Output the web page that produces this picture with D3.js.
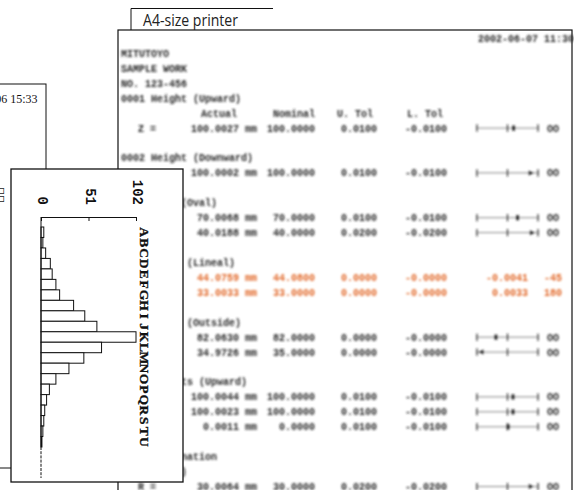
<!DOCTYPE html>
<html>
<head>
<meta charset="utf-8">
<script src="https://cdn.jsdelivr.net/npm/d3@7"></script>
<style>
  html, body { margin: 0; padding: 0; background: #fff; }
  svg { display: block; }
</style>
</head>
<body>
<svg id="chart" width="574" height="490"></svg>
<script>
// histogram printed on the small printer (counts per class)
const categories = 'ABCDEFGHIJKLMNOPQRSTU'.split('');
const counts = [3, 2, 5, 10, 12, 16, 20, 35, 47, 60, 102, 65, 46, 30, 16, 9, 6, 4, 3, 2, 1];
const countTicks = [0, 51, 102];

// A4 report text
const reportDate = '2002-06-07 11:30';
const reportTitle = ['MITUTOYO', 'SAMPLE WORK', 'NO. 123-456'];
const columnHeads = ['Actual', 'Nominal', 'U. Tol', 'L. Tol'];
const headingLines = [4, 8, 11, 15, 19, 23, 28, 29];
const headingTexts = ['0001 Height (Upward)', '0002 Height (Downward)', '0003 Bore  (Oval)',
  '0004 Dist. (Lineal)', '0005 Width (Outside)', '0006 Heights (Upward)', '0007 Inclination', '     Datum (B-C)'];

const rowLines  = [6, 9, 12, 13, 16, 17, 20, 21, 24, 25, 26, 30];
const rowLabels = ['Z  =', '', '', '', '', '', '', '', '', '', '', 'R  ='];
const actuals   = ['100.0027', '100.0002', '70.0068', '40.0188', '44.0759', '33.0033',
  '82.0630', '34.9726', '100.0044', '100.0023', '0.0011', '30.0064'];
const nominals  = ['100.0000', '100.0000', '70.0000', '40.0000', '44.0800', '33.0000',
  '82.0000', '35.0000', '100.0000', '100.0000', '0.0000', '30.0000'];
const upperTols = ['0.0100', '0.0100', '0.0100', '0.0200', '0.0000', '0.0000',
  '0.0000', '0.0000', '0.0100', '0.0100', '0.0100', '0.0200'];
const lowerTols = ['-0.0100', '-0.0100', '-0.0100', '-0.0200', '-0.0000', '-0.0000',
  '-0.0000', '-0.0000', '-0.0100', '-0.0100', '-0.0100', '-0.0200'];
const gaugePos  = [0.2, 0.76, 0.33, 0.8, null, null, -0.38, -0.85, 0.18, 0.18, 0.02, 0.76];
const outDevs   = [null, null, null, null, '-0.0041', '0.0033', null, null, null, null, null, null];
const outAngles = [null, null, null, null, '-45', '180', null, null, null, null, null, null];

const svg = d3.select('#chart');
const mono = "'Liberation Mono', 'DejaVu Sans Mono', monospace";

svg.append('defs').append('filter')
  .attr('id', 'blur')
  .attr('x', '-5%').attr('y', '-50%').attr('width', '110%').attr('height', '200%')
  .append('feGaussianBlur').attr('stdDeviation', 1.1);

// ---- A4 page ----
const page = svg.append('g').attr('class', 'page');
page.append('rect')
  .attr('x', 118).attr('y', 30).attr('width', 454).attr('height', 480)
  .attr('fill', '#fff').attr('stroke', '#111').attr('stroke-width', 1.2);
page.append('path')
  .attr('d', 'M131,30V8.5H273')
  .attr('fill', 'none').attr('stroke', '#111').attr('stroke-width', 1);
page.append('text')
  .attr('x', 143).attr('y', 26)
  .attr('font-family', "'Open Sans', sans-serif").attr('font-size', 15.5)
  .attr('textLength', 95).attr('lengthAdjust', 'spacingAndGlyphs')
  .attr('fill', '#222')
  .text('A4-size printer');

const lineY = d3.scaleLinear().domain([0, 30]).range([38.5, 486.5]);

const report = page.append('g')
  .attr('filter', 'url(#blur)')
  .attr('font-family', mono).attr('font-size', 10).attr('font-weight', 'bold')
  .attr('fill', '#2a2a2a');

const put = (x, line, text, anchor, color) => report.append('text')
  .attr('x', x).attr('y', lineY(line)).attr('dy', '0.35em')
  .attr('text-anchor', anchor || 'start')
  .attr('fill', color || null)
  .text(text);

put(478, 0, reportDate);
reportTitle.forEach((t, i) => put(121, i + 1, t));
headingTexts.forEach((t, i) => put(121, headingLines[i], t));
[237, 315, 373, 443].forEach((x, i) => put(x, 5, columnHeads[i], 'end'));

const gx = d3.scaleLinear().domain([-1, 1]).range([477, 538]);
rowLines.forEach((ln, i) => {
  const col = outDevs[i] ? '#e2692a' : null;
  const yy = lineY(ln);
  if (rowLabels[i]) put(138, ln, rowLabels[i]);
  put(257, ln, actuals[i] + ' mm', 'end', col);
  put(315, ln, nominals[i], 'end', col);
  put(377, ln, upperTols[i], 'end', col);
  put(447, ln, lowerTols[i], 'end', col);
  if (outDevs[i]) {
    put(528, ln, outDevs[i], 'end', col);
    put(562, ln, outAngles[i], 'end', col);
  }
  if (gaugePos[i] != null) {
    const p = gaugePos[i];
    report.append('line')
      .attr('x1', gx(-1)).attr('x2', gx(1)).attr('y1', yy).attr('y2', yy)
      .attr('stroke', '#888').attr('stroke-width', 1);
    [-1, 0, 1].forEach(t => report.append('line')
      .attr('x1', gx(t)).attr('x2', gx(t)).attr('y1', yy - 3.5).attr('y2', yy + 3.5)
      .attr('stroke', '#222').attr('stroke-width', 1.3));
    if (Math.abs(p) > 0.7) {
      const dir = p > 0 ? 1 : -1, px = gx(p);
      report.append('path')
        .attr('d', `M${px + dir * 3},${yy}L${px - dir * 2},${yy - 2.5}L${px - dir * 2},${yy + 2.5}Z`)
        .attr('fill', '#222');
    } else {
      report.append('rect')
        .attr('x', gx(p) - 1.5).attr('y', yy - 2.5).attr('width', 3).attr('height', 5)
        .attr('fill', '#222');
    }
    put(547, ln, 'OO');
  }
});

// ---- small printer sheet behind (left) ----
const sheet = svg.append('g');
sheet.append('rect')
  .attr('x', -5).attr('y', 84).attr('width', 51).attr('height', 384)
  .attr('fill', '#fff').attr('stroke', '#111').attr('stroke-width', 1);
sheet.append('text')
  .attr('x', 37.5).attr('y', 102.5).attr('text-anchor', 'end')
  .attr('font-family', "'Liberation Serif', serif").attr('font-size', 12)
  .attr('fill', '#111')
  .text('2002-06-06 15:33');
sheet.append('text')
  .attr('transform', 'translate(1,195) rotate(90)')
  .attr('text-anchor', 'middle').attr('dy', '0.35em')
  .attr('font-family', "'Noto Sans CJK JP', sans-serif").attr('font-size', 8)
  .attr('fill', '#222')
  .text('口口');

// ---- histogram sheet ----
const hist = svg.append('g').attr('class', 'histogram');
hist.append('rect')
  .attr('x', 11).attr('y', 169).attr('width', 172).attr('height', 313)
  .attr('fill', '#fff').attr('stroke', '#111').attr('stroke-width', 1.3);

const x = d3.scaleLinear().domain([0, 102]).range([41, 136]);
const y = d3.scaleBand().domain(categories).range([227, 447]);

hist.append('g')
  .selectAll('rect')
  .data(counts)
  .join('rect')
  .attr('x', x(0))
  .attr('y', (d, i) => y(categories[i]))
  .attr('width', d => x(d) - x(0))
  .attr('height', y.bandwidth())
  .attr('fill', '#fff')
  .attr('stroke', '#111')
  .attr('stroke-width', 1);

// baseline: solid through the bars, dotted below
hist.append('line')
  .attr('x1', x(0)).attr('x2', x(0)).attr('y1', 217).attr('y2', y.range()[1])
  .attr('stroke', '#111').attr('stroke-width', 1);
hist.append('line')
  .attr('x1', x(0)).attr('x2', x(0)).attr('y1', y.range()[1]).attr('y2', 478)
  .attr('stroke', '#111').attr('stroke-width', 1).attr('stroke-dasharray', '3,1.2');

const countAxis = hist.append('g')
  .attr('transform', 'translate(0,217)')
  .call(d3.axisBottom(x).tickValues(countTicks).tickSize(4).tickSizeOuter(0).tickFormat(d3.format('d')));
countAxis.select('.domain').attr('stroke', '#111');
countAxis.selectAll('.tick line').attr('stroke', '#111');
countAxis.selectAll('.tick text')
  .attr('x', null).attr('y', null).attr('dy', '0.35em')
  .attr('text-anchor', 'end')
  .attr('transform', 'translate(1.5,-12) rotate(90)')
  .attr('font-family', mono).attr('font-size', 14).attr('font-weight', 'bold')
  .attr('fill', '#111');

const catAxis = hist.append('g')
  .call(d3.axisRight(y).tickSize(0));
catAxis.select('.domain').remove();
catAxis.selectAll('.tick text')
  .attr('x', null).attr('dy', '0.35em')
  .attr('text-anchor', 'middle')
  .attr('transform', 'translate(144.5,0) rotate(90)')
  .attr('font-family', "'Liberation Serif', serif").attr('font-size', 13.5).attr('font-weight', 'bold')
  .attr('fill', '#111')
  .attr('stroke', '#111').attr('stroke-width', 0.35);
</script>
</body>
</html>
